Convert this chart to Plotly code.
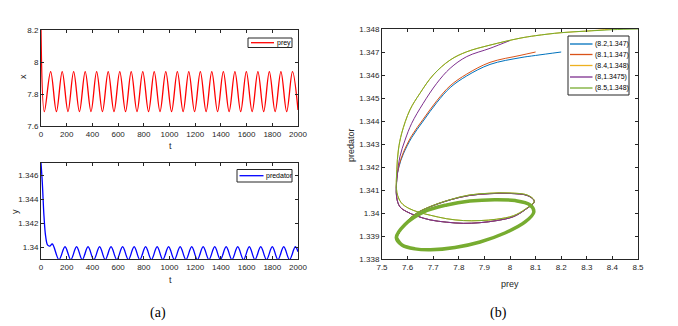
import plotly.graph_objects as go

# the page body adds an 8px margin, so the figure is drawn 8px smaller and
# every pixel position below is given in window coordinates minus OFF
OFF = 8
W, H = 678 - OFF, 326 - OFF
AX = "#262626"
FONT = "Liberation Sans, Arial, sans-serif"

# ---- panel (a): time series, turning points ----
prey_t = [0, 26, 75, 120, 165, 210, 254, 299, 344, 389, 433, 478, 523, 568,
          613, 658, 702, 747, 792, 837, 881, 926, 971, 1016, 1061, 1106, 1150,
          1195, 1240, 1285, 1329, 1374, 1419, 1464, 1509, 1554, 1598, 1643,
          1688, 1733, 1777, 1822, 1867, 1912, 1957, 2000]
prey_x = [8.2, 7.69,
          7.94, 7.69, 7.94, 7.69, 7.94, 7.69, 7.94, 7.69, 7.94, 7.69, 7.94,
          7.69, 7.94, 7.69, 7.94, 7.69, 7.94, 7.69, 7.94, 7.69, 7.94, 7.69,
          7.94, 7.69, 7.94, 7.69, 7.94, 7.69, 7.94, 7.69, 7.94, 7.69, 7.94,
          7.69, 7.94, 7.69, 7.94, 7.69, 7.94, 7.69, 7.94, 7.69, 7.94,
          7.70]

pred_t = [0, 10, 23, 36, 52, 68, 88, 140,
          187, 232, 277, 321, 366, 411, 456, 500, 545, 590, 635, 680, 725,
          769, 814, 859, 904, 948, 993, 1038, 1083, 1128, 1173, 1217, 1262,
          1307, 1352, 1396, 1441, 1486, 1531, 1576, 1621, 1665, 1710, 1755,
          1800, 1844, 1889, 1934, 1979, 2000]
pred_y = [1.3470, 1.3454, 1.3426, 1.3409, 1.34015, 1.34008, 1.34025, 1.33895,
          1.34002, 1.33895, 1.34002, 1.33895, 1.34002, 1.33895, 1.34002,
          1.33895, 1.34002, 1.33895, 1.34002, 1.33895, 1.34002, 1.33895,
          1.34002, 1.33895, 1.34002, 1.33895, 1.34002, 1.33895, 1.34002,
          1.33895, 1.34002, 1.33895, 1.34002, 1.33895, 1.34002, 1.33895,
          1.34002, 1.33895, 1.34002, 1.33895, 1.34002, 1.33895, 1.34002,
          1.33895, 1.34002, 1.33895, 1.34002, 1.33895, 1.34002,
          1.3396]

# ---- panel (b): phase portraits ----
blue_x = [8.2, 8.1, 8.039, 7.922, 7.831, 7.766, 7.714, 7.661, 7.616, 7.583, 7.566, 7.558]
blue_y = [1.3470, 1.34685, 1.34675, 1.34646, 1.34596, 1.34545, 1.34480, 1.34400, 1.34328, 1.34256, 1.34200, 1.34150]
orange_x = [8.1, 8.039, 7.922, 7.831, 7.766, 7.714, 7.661, 7.616, 7.583, 7.566, 7.558]
orange_y = [1.3470, 1.34685, 1.34655, 1.34604, 1.34553, 1.34488, 1.34408, 1.34336, 1.34262, 1.34204, 1.34150]
purple_x = [8.0, 7.922, 7.831, 7.766, 7.714, 7.661, 7.616, 7.590, 7.570, 7.560]
purple_y = [1.3475, 1.34716, 1.34680, 1.34629, 1.34564, 1.34477, 1.34390, 1.34317, 1.34245, 1.34170]
yellow_x = [8.4, 8.3, 8.2, 8.1, 8.039, 7.922, 7.831, 7.766, 7.70, 7.648, 7.609, 7.577, 7.564, 7.558]
yellow_y = [1.3480, 1.34791, 1.34784, 1.34771, 1.34760, 1.34730, 1.34701, 1.34665, 1.34600, 1.34520, 1.34448, 1.34347, 1.34274, 1.34190]
green_x = [8.5, 8.4, 8.3, 8.2, 8.1, 8.039, 7.922, 7.831, 7.766, 7.70, 7.648, 7.609, 7.577, 7.564, 7.558]
green_y = [1.3480, 1.34797, 1.34791, 1.34784, 1.34771, 1.34760, 1.34730, 1.34701, 1.34665, 1.34600, 1.34520, 1.34448, 1.34347, 1.34274, 1.34190]

# first (transient) turn
loop_x = [7.557, 7.570, 7.596, 7.636, 7.688, 7.753, 7.818, 7.883, 7.948, 8.013, 8.060, 8.095,
          8.070, 8.000, 7.920, 7.840, 7.766, 7.688, 7.636, 7.596, 7.570]
loop_y = [1.34070, 1.34027, 1.34006, 1.33987, 1.33970, 1.33960, 1.33955, 1.33958, 1.33967, 1.33984, 1.34015, 1.34050,
          1.34075, 1.34085, 1.34084, 1.34076, 1.34057, 1.34027, 1.33999, 1.33962, 1.33926]
gloop_x = [7.558, 7.575, 7.605, 7.645, 7.690, 7.753, 7.818, 7.883, 7.948, 8.013, 8.060, 8.095,
           8.070, 8.000, 7.920, 7.840, 7.766, 7.688, 7.636, 7.596, 7.570]
gloop_y = [1.34090, 1.34045, 1.34020, 1.34003, 1.33990, 1.33975, 1.33967, 1.33967, 1.33973, 1.33988, 1.34017, 1.34052,
           1.34077, 1.34087, 1.34086, 1.34078, 1.34058, 1.34028, 1.34000, 1.33963, 1.33926]
# limit cycle
cycle_x = [7.556, 7.578, 7.629, 7.690, 7.785, 7.883, 7.980, 8.059, 8.093, 8.078, 8.020,
           7.940, 7.843, 7.753, 7.661, 7.590, 7.556]
cycle_y = [1.33893, 1.33861, 1.33844, 1.33840, 1.33850, 1.33874, 1.33913, 1.33961, 1.34004, 1.34035, 1.34054,
           1.34058, 1.34052, 1.34035, 1.34004, 1.33950, 1.33893]

labels = ["(8.2,1.347)", "(8.1,1.347)", "(8.4,1.348)", "(8,1.3475)", "(8.5,1.348)"]
colors = ["#0072BD", "#D95319", "#EDB120", "#7E2F8E", "#77AC30"]
heads = [(blue_x, blue_y), (orange_x, orange_y), (yellow_x, yellow_y),
         (purple_x, purple_y), (green_x, green_y)]

fig = go.Figure()

fig.add_trace(go.Scatter(x=prey_t, y=prey_x, mode="lines", name="prey",
                         line=dict(color="#FF0000", width=1.3, shape="spline", smoothing=1),
                         xaxis="x", yaxis="y", showlegend=False))
fig.add_trace(go.Scatter(x=pred_t, y=pred_y, mode="lines", name="predator",
                         line=dict(color="#0000FF", width=1.3, shape="spline", smoothing=1),
                         xaxis="x2", yaxis="y2", showlegend=False))

for (hx, hy), lab, col in zip(heads, labels, colors):
    lx, ly = (gloop_x, gloop_y) if lab in ("(8.4,1.348)", "(8.5,1.348)") else (loop_x, loop_y)
    fig.add_trace(go.Scatter(x=hx + lx + cycle_x, y=hy + ly + cycle_y, mode="lines", name=lab,
                             line=dict(color=col, width=1, shape="spline", smoothing=1),
                             xaxis="x3", yaxis="y3", showlegend=False))
# repeated turns on the limit cycle make the thick green ring
fig.add_trace(go.Scatter(x=cycle_x + cycle_x[1:3], y=cycle_y + cycle_y[1:3], mode="lines",
                         line=dict(color=colors[4], width=3.5, shape="spline", smoothing=1),
                         xaxis="x3", yaxis="y3", showlegend=False, hoverinfo="skip"))


def axis(**kw):
    d = dict(showline=True, linecolor=AX, linewidth=1, mirror="ticks", ticks="inside",
             ticklen=3, tickcolor=AX, tickwidth=1, showgrid=False, zeroline=False,
             automargin=False, tickfont=dict(size=8, color=AX, family=FONT))
    d.update(kw)
    return d


def dom(p0, p1, horizontal=True):
    if horizontal:
        return [(p0 - OFF) / W, (p1 - OFF) / W]
    return [1 - (p1 - OFF) / H, 1 - (p0 - OFF) / H]


fig.update_layout(
    width=W, height=H, margin=dict(l=0, r=0, t=0, b=0, autoexpand=False),
    paper_bgcolor="white", plot_bgcolor="white",
    xaxis=axis(domain=dom(41, 298), range=[0, 2000], dtick=200, anchor="y"),
    yaxis=axis(domain=dom(30, 126, False), range=[7.6, 8.2], dtick=0.2, anchor="x"),
    xaxis2=axis(domain=dom(41, 298), range=[0, 2000], dtick=200, anchor="y2"),
    yaxis2=axis(domain=dom(163, 259, False), range=[1.339, 1.347], dtick=0.002, anchor="x2"),
    xaxis3=axis(domain=dom(382, 638), range=[7.5, 8.5], dtick=0.1, anchor="y3"),
    yaxis3=axis(domain=dom(29, 259, False), range=[1.338, 1.348], dtick=0.001, anchor="x3"),
)


def px(x, y):
    return (x - OFF) / W, 1 - (y - OFF) / H


def text(x, y, s, size=9, angle=0, family=FONT, color=AX):
    xp, yp = px(x, y)
    fig.add_annotation(x=xp, y=yp, xref="paper", yref="paper", text=s, showarrow=False,
                       textangle=angle, font=dict(size=size, family=family, color=color),
                       xanchor="center", yanchor="middle")


def legend_box(x0, y0, x1, y1, entries, lx0, lx1, tx):
    a, b = px(x0, y0)
    c, d = px(x1, y1)
    fig.add_shape(type="rect", xref="paper", yref="paper", x0=a, y0=d, x1=c, y1=b,
                  line=dict(color=AX, width=1), fillcolor="white", layer="above")
    for col, lab, yy in entries:
        p0, q = px(lx0, yy)
        p1, _ = px(lx1, yy)
        fig.add_shape(type="line", xref="paper", yref="paper", x0=p0, y0=q, x1=p1, y1=q,
                      line=dict(color=col, width=1.3), layer="above")
        xt, _ = px(tx, yy)
        fig.add_annotation(x=xt, y=q, xref="paper", yref="paper", text=lab, showarrow=False,
                           xanchor="left", yanchor="middle",
                           font=dict(size=7, family=FONT, color="black"))


legend_box(248, 38, 292, 47.5, [("#FF0000", "prey", 42.7)], 251, 274, 275)
legend_box(237, 169.5, 292, 182, [("#0000FF", "predator", 175.7)], 239.5, 263.5, 264)
legend_box(568, 36, 629, 95, [(c, l, y) for c, l, y in zip(colors, labels, [44, 54.5, 65.5, 77, 88])],
           570, 592.5, 593)

text(23, 77, "x", angle=-90)
text(15, 212, "y", angle=-90)
text(170, 146, "t")
text(170, 280, "t")
text(510, 284, "prey")
text(351, 145, "predator", angle=-90)
text(158, 313, "(a)", size=14, family="Liberation Serif, Times New Roman, serif", color="black")
text(498, 313, "(b)", size=14, family="Liberation Serif, Times New Roman, serif", color="black")

fig.write_html("out.html")
